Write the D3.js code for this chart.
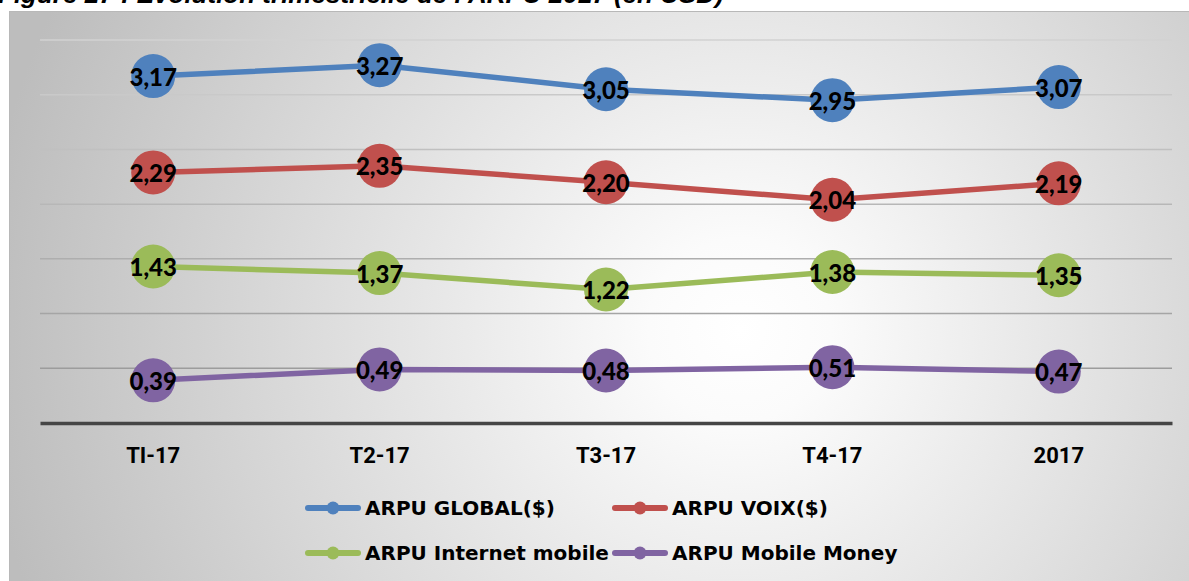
<!DOCTYPE html>
<html><head><meta charset="utf-8">
<script src="https://cdn.jsdelivr.net/npm/d3@7"></script>
<style>html,body{margin:0;padding:0;background:#fff;overflow:hidden}</style>
</head><body>
<svg id="c" width="1189" height="581"></svg>
<script>
const categories = ["TI-17","T2-17","T3-17","T4-17","2017"];
const seriesNames = ["ARPU GLOBAL($)","ARPU VOIX($)","ARPU Internet mobile","ARPU Mobile Money"];
const arpuGlobal = [3.17,3.27,3.05,2.95,3.07];
const arpuVoix = [2.29,2.35,2.20,2.04,2.19];
const arpuInternet = [1.43,1.37,1.22,1.38,1.35];
const arpuMobileMoney = [0.39,0.49,0.48,0.51,0.47];
const yTicks = [0,0.5,1,1.5,2,2.5,3,3.5];
const colors = ["#4f81bd","#c0504d","#9bbb59","#8064a2"];
const title = "Figure 27 : Évolution trimestrielle de l'ARPU 2017 (en USD)";

const series = [arpuGlobal, arpuVoix, arpuInternet, arpuMobileMoney].map((v,i)=>({name:seriesNames[i], values:v, color:colors[i]}));

const svg = d3.select("#c");
const defs = svg.append("defs");
const rg = defs.append("radialGradient").attr("id","bg").attr("gradientUnits","userSpaceOnUse")
  .attr("cx",740).attr("cy",330).attr("r",760);
rg.append("stop").attr("offset","0").attr("stop-color","#ffffff");
rg.append("stop").attr("offset","0.12").attr("stop-color","#fbfbfb");
rg.append("stop").attr("offset","1").attr("stop-color","#bdbdbd");

// chart area
svg.append("rect").attr("x",9.5).attr("y",11.5).attr("width",1185).attr("height",580)
  .attr("fill","url(#bg)").attr("stroke","#b8b8b8").attr("stroke-width",1);

// title (clipped at top, as in the reference)
svg.append("text").attr("x",-2).attr("y",3).text(title)
  .attr("font-family","Liberation Sans, Arial, sans-serif").attr("font-weight","bold")
  .attr("font-style","italic").attr("font-size",26).attr("fill","#000");

const x = d3.scaleBand().domain(categories).range([40,1172]);
const y = d3.scaleLinear().domain([0,3.5]).range([423,40]);

// gridlines
const gridColor = d3.scaleLinear().domain([3.5,0.5]).range(["#d2d2d2","#9c9c9c"]);
svg.append("g").selectAll("line").data(yTicks.filter(t=>t>0)).join("line")
  .attr("x1",40).attr("x2",1172).attr("y1",d=>y(d)).attr("y2",d=>y(d))
  .attr("stroke",d=>gridColor(d)).attr("stroke-width",1.5);

// x axis
const xAxis = svg.append("g").attr("transform","translate(0,423)")
  .call(d3.axisBottom(x).tickSize(0).tickPadding(22));
xAxis.select(".domain").attr("stroke","#454545").attr("stroke-width",3.5);
xAxis.selectAll("text").attr("font-family","Roboto, Arial, sans-serif").attr("font-weight","bold")
  .attr("font-size",22).attr("fill","#000").attr("dy","0.35em").attr("y",32);

// lines
const line = d3.line().x((d,i)=>x(categories[i])+x.bandwidth()/2).y(d=>y(d));
const g = svg.append("g");
series.forEach(s=>{
  g.append("path").attr("d",line(s.values)).attr("fill","none")
    .attr("stroke",s.color).attr("stroke-width",5.5).attr("stroke-linejoin","round");
});
series.forEach(s=>{
  g.append("g").selectAll("circle").data(s.values).join("circle")
    .attr("cx",(d,i)=>x(categories[i])+x.bandwidth()/2).attr("cy",d=>y(d)).attr("r",22)
    .attr("fill",s.color);
});
series.forEach(s=>{
  g.append("g").selectAll("text").data(s.values).join("text")
    .attr("x",(d,i)=>x(categories[i])+x.bandwidth()/2).attr("y",d=>y(d)+1).attr("dy","0.36em")
    .attr("text-anchor","middle").attr("font-family","Lato, sans-serif").attr("font-weight","900")
    .attr("font-size",24).attr("fill","#000")
    .text(d=>d.toFixed(2).replace(".",","));
});

// legend
const legendPos = [[305,508],[612,508],[305,553],[612,553]];
series.forEach((s,i)=>{
  const [lx,ly] = legendPos[i];
  const lg = svg.append("g").attr("transform",`translate(${lx},${ly})`);
  lg.append("line").attr("x1",3).attr("x2",53).attr("y1",0).attr("y2",0)
    .attr("stroke",s.color).attr("stroke-width",6).attr("stroke-linecap","round");
  lg.append("circle").attr("cx",28).attr("cy",0).attr("r",6.5).attr("fill",s.color);
  lg.append("text").attr("x",60).attr("y",0).attr("dy","0.36em").text(s.name)
    .attr("font-family","DejaVu Sans, sans-serif").attr("font-weight","bold")
    .attr("font-size",20).attr("fill","#000");
});
</script>
</body></html>
